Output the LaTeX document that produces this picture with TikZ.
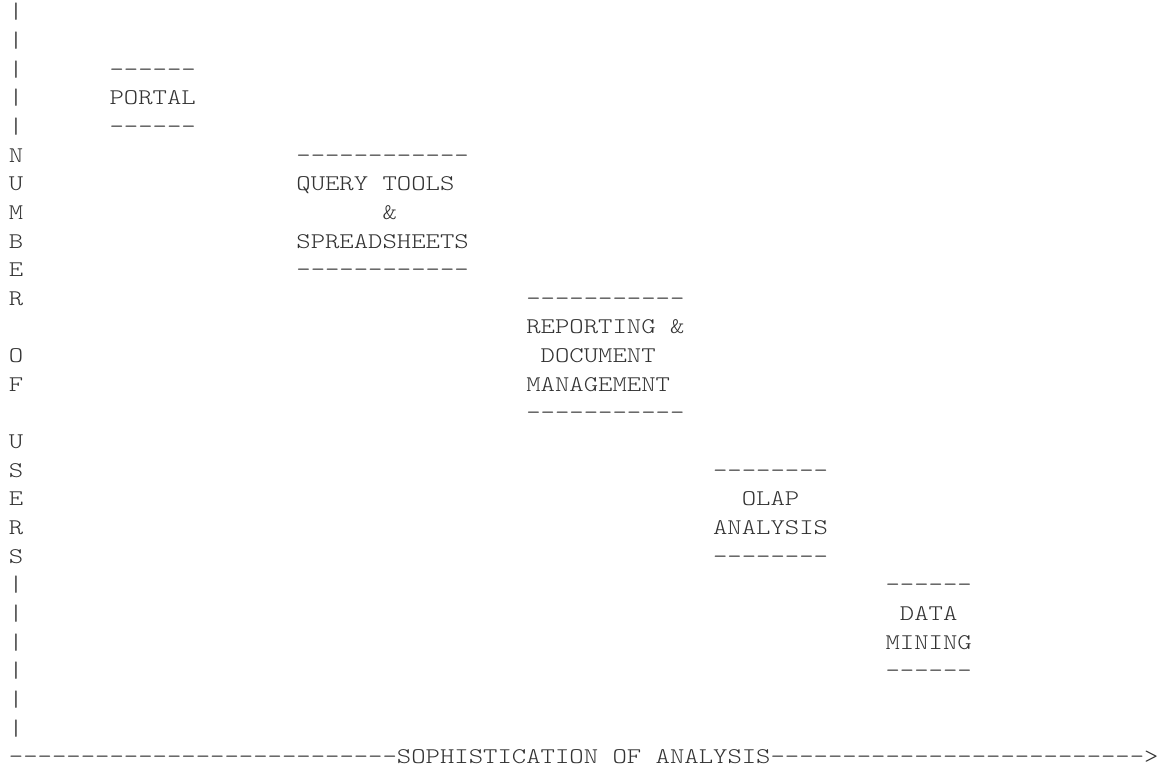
\documentclass[tikz,border=0pt]{standalone}
\usepackage{fontspec}
\usepackage{tikz}
\usetikzlibrary{positioning}
\newfontfamily\asciifont{lmmonolt10-regular}[Extension=.otf, FakeStretch=1.222]
\definecolor{asciigray}{RGB}{50,50,50}

\begin{document}
\begin{tikzpicture}[
  x=14.37pt, y=-28.65pt,
  ascii/.style={
    anchor=base west, inner sep=0pt, outer sep=0pt,
    text=asciigray,
    font=\asciifont\fontsize{22.4}{28.65}\selectfont
  }
]
  \useasboundingbox (-0.626,-0.658) rectangle (80.31,26.39);

  % vertical axis, one character per row
  \foreach \r/\ch in {0/|,1/|,2/|,3/|,4/|,5/N,6/U,7/M,8/B,9/E,10/R,12/O,13/F,
                      15/U,16/S,17/E,18/R,19/S,20/|,21/|,22/|,23/|,24/|,25/|}
    \node[ascii] (axis\r) at (0,\r) {\ch};

  % portal
  \node[ascii] (portaltop) at (7,2) {------};
  \node[ascii] (portal)    at (7,3) {PORTAL};
  \node[ascii] (portalbot) at (7,4) {------};

  % query tools & spreadsheets
  \node[ascii] (querytop) at (20,5) {------------};
  \node[ascii] (query)    at (20,6) {QUERY TOOLS};
  \node[ascii] (queryamp) at (26,7) {\&};
  \node[ascii] (sheets)   at (20,8) {SPREADSHEETS};
  \node[ascii] (querybot) at (20,9) {------------};

  % reporting & document management
  \node[ascii] (reporttop) at (36,10) {-----------};
  \node[ascii] (report)    at (36,11) {REPORTING \&};
  \node[ascii] (document)  at (37,12) {DOCUMENT};
  \node[ascii] (manage)    at (36,13) {MANAGEMENT};
  \node[ascii] (reportbot) at (36,14) {-----------};

  % olap analysis
  \node[ascii] (olaptop)  at (49,16) {--------};
  \node[ascii] (olap)     at (51,17) {OLAP};
  \node[ascii] (analysis) at (49,18) {ANALYSIS};
  \node[ascii] (olapbot)  at (49,19) {--------};

  % data mining
  \node[ascii] (miningtop) at (61,20) {------};
  \node[ascii] (data)      at (62,21) {DATA};
  \node[ascii] (mining)    at (61,22) {MINING};
  \node[ascii] (miningbot) at (61,23) {------};

  % horizontal axis
  \node[ascii] (xaxis) at (0,26)
    {---------------------------SOPHISTICATION OF ANALYSIS-------------------------->};
\end{tikzpicture}
\end{document}
